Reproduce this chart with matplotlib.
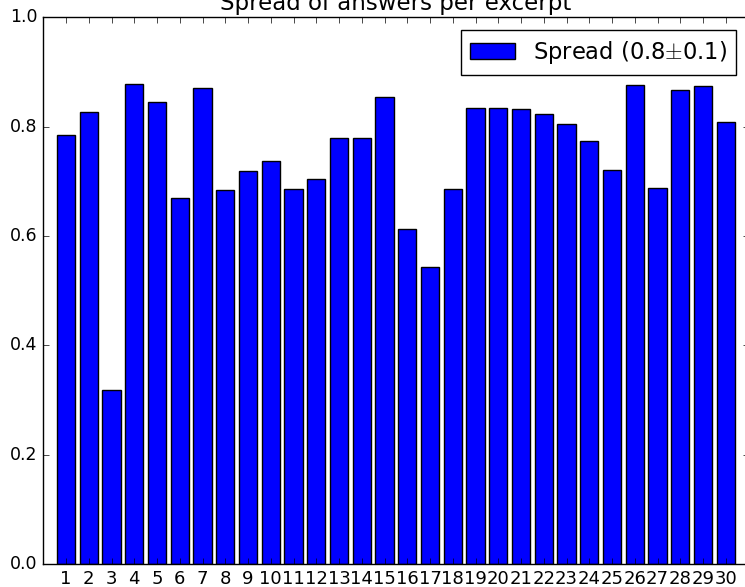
import matplotlib
matplotlib.use('Agg')
import matplotlib.pyplot as plt

plt.style.use('classic')

# one spread value per excerpt
excerpts = list(range(1, 31))
tick_labels = [str(i) for i in excerpts]
spread = [0.785, 0.826, 0.318, 0.879, 0.846, 0.669, 0.871, 0.684, 0.719, 0.738,
          0.686, 0.705, 0.780, 0.780, 0.854, 0.612, 0.544, 0.686, 0.834, 0.835,
          0.832, 0.824, 0.805, 0.774, 0.721, 0.877, 0.688, 0.867, 0.875, 0.808]
legend_label = 'Spread (0.8$\\pm$0.1)'
title = 'Spread of answers per excerpt'

fig = plt.figure(figsize=(7.45, 5.87), dpi=100, facecolor='white')
ax = fig.add_axes([0.0581, 0.0392, 0.9467, 0.9312])

ax.bar(excerpts, spread, width=0.8, align='center', color='b',
       edgecolor='k', linewidth=1.0, label=legend_label)

ax.set_xlim(0, 31)
ax.set_ylim(0.0, 1.0)
ax.set_xticks(excerpts)
ax.set_xticklabels(tick_labels)
ax.set_yticks([0.0, 0.2, 0.4, 0.6, 0.8, 1.0])
ax.tick_params(axis='x', labelsize=13)
ax.tick_params(axis='y', labelsize=12.5)
ax.set_title(title, fontsize=16.5)

ax.legend(loc='upper right', fontsize=16.3, borderaxespad=0.55)

fig.savefig('out.png', dpi=100, facecolor='white')
